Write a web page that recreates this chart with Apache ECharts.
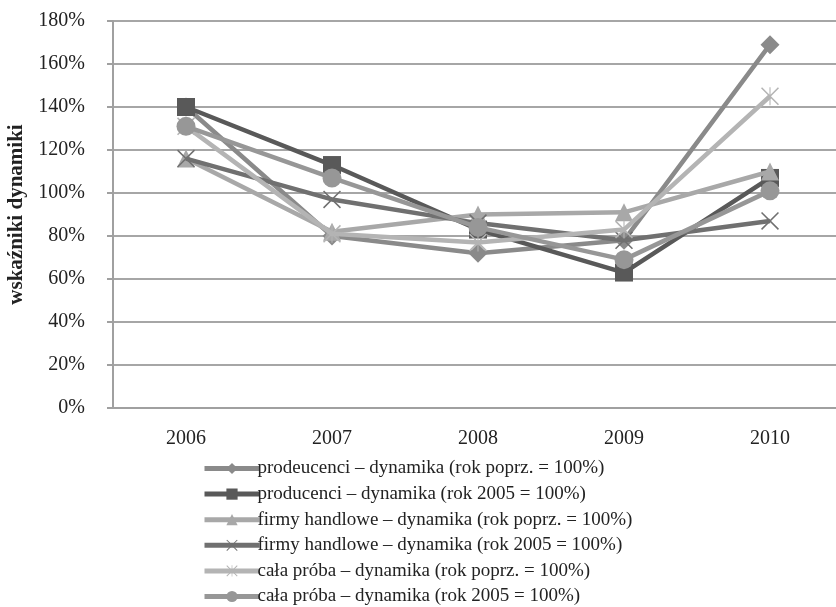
<!DOCTYPE html>
<html>
<head>
<meta charset="utf-8">
<script src="https://cdn.jsdelivr.net/npm/echarts@6/dist/echarts.min.js"></script>
<style>
html,body{margin:0;padding:0;background:#fff;}
#chart{width:836px;height:607px;}
</style>
</head>
<body>
<div id="chart"></div>
<script>
var categories = ['2006', '2007', '2008', '2009', '2010'];
var seriesNames = [
  'prodeucenci – dynamika (rok poprz. = 100%)',
  'producenci – dynamika (rok 2005 = 100%)',
  'firmy handlowe – dynamika (rok poprz. = 100%)',
  'firmy handlowe – dynamika (rok 2005 = 100%)',
  'cała próba – dynamika (rok poprz. = 100%)',
  'cała próba – dynamika (rok 2005 = 100%)'
];
var producenciPoprz = [140, 80, 72, 78, 169];
var producenci2005 = [140, 113, 83, 63, 107];
var handlowePoprz = [116, 82, 90, 91, 110];
var handlowe2005 = [116, 97, 86, 78, 87];
var calaPoprz = [131, 81, 77, 83, 145];
var cala2005 = [131, 107, 84, 69, 101];
var yTicks = [0, 20, 40, 60, 80, 100, 120, 140, 160, 180];

var xPath = 'path://M0,1.2L1.2,0L20,18.8L18.8,20Z M18.8,0L20,1.2L1.2,20L0,18.8Z';
var starPath = 'path://M9.4,0L10.6,0L10.6,20L9.4,20Z M0,1.2L1.2,0L20,18.8L18.8,20Z M18.8,0L20,1.2L1.2,20L0,18.8Z';

var styles = [
  {color: '#8a8a8a', symbol: 'diamond', size: 19},
  {color: '#595959', symbol: 'rect', size: 18},
  {color: '#a8a8a8', symbol: 'triangle', size: 18},
  {color: '#707070', symbol: xPath, size: 18},
  {color: '#b4b4b4', symbol: starPath, size: 18},
  {color: '#979797', symbol: 'circle', size: 19}
];
var dataSets = [producenciPoprz, producenci2005, handlowePoprz, handlowe2005, calaPoprz, cala2005];

var series = dataSets.map(function (d, i) {
  var s = styles[i];
  return {
    name: seriesNames[i],
    type: 'line',
    data: d,
    symbol: s.symbol,
    symbolSize: s.size,
    showAllSymbol: true,
    animation: false,
    lineStyle: {color: s.color, width: 4.5},
    itemStyle: {color: s.color, borderWidth: 0},
    emphasis: {disabled: true},
    z: 2 + i
  };
});

var chart = echarts.init(document.getElementById('chart'), null, {renderer: 'canvas'});
chart.setOption({
  backgroundColor: '#ffffff',
  animation: false,
  textStyle: {fontFamily: 'Liberation Serif'},
  grid: {left: 113, top: 21, width: 730, height: 387, containLabel: false, outerBoundsMode: 'none'},
  legend: {
    orient: 'vertical',
    left: 202,
    top: 459,
    height: 160,
    padding: 0,
    itemWidth: 55,
    itemHeight: 14,
    itemGap: 6.6,
    lineStyle: {width: 5},
    textStyle: {fontFamily: 'Liberation Serif', fontSize: 19, color: '#222', lineHeight: 19, padding: [0, 0, 0, -7]},
    data: seriesNames
  },
  xAxis: {
    type: 'category',
    data: categories,
    boundaryGap: true,
    axisLine: {show: true, lineStyle: {color: '#a0a0a0', width: 2}},
    axisTick: {show: false},
    axisLabel: {fontFamily: 'Liberation Serif', fontSize: 20, color: '#222', margin: 21}
  },
  yAxis: {
    type: 'value',
    min: 0,
    max: 180,
    interval: 20,
    name: 'wskaźniki dynamiki',
    nameLocation: 'middle',
    nameRotate: 90,
    nameGap: 86,
    nameTextStyle: {fontFamily: 'Liberation Serif', fontSize: 21, fontWeight: 'bold', color: '#222'},
    axisLine: {show: true, lineStyle: {color: '#a0a0a0', width: 2}},
    axisTick: {show: true, inside: false, length: 6, lineStyle: {color: '#a0a0a0', width: 2}},
    splitLine: {show: true, lineStyle: {color: '#a6a6a6', width: 2}},
    axisLabel: {
      fontFamily: 'Liberation Serif', fontSize: 20, color: '#222', margin: 28,
      formatter: function (v) { return yTicks.indexOf(v) >= 0 ? v + '%' : ''; }
    }
  },
  series: series
});
</script>
</body>
</html>
